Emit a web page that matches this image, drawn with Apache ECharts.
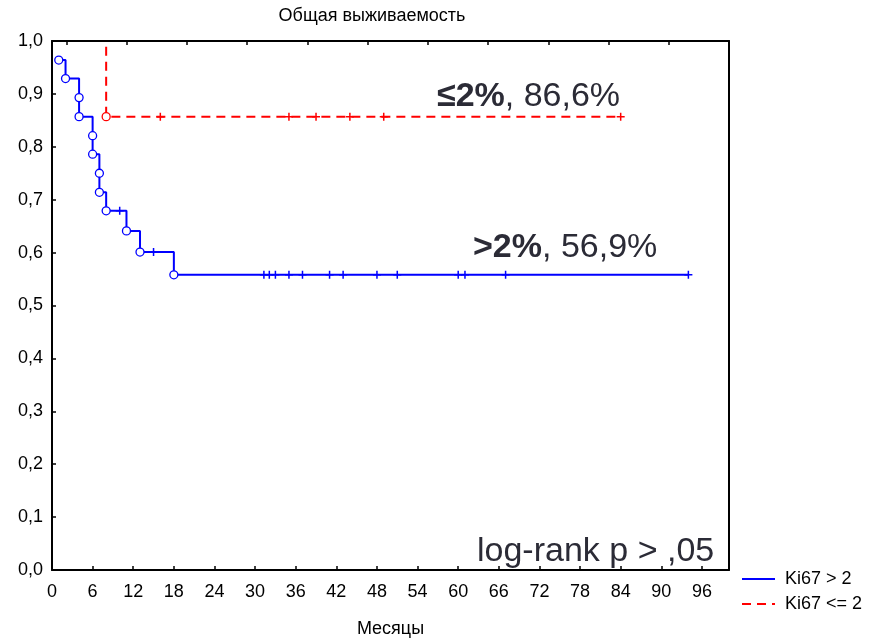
<!DOCTYPE html>
<html>
<head>
<meta charset="utf-8">
<script src="https://cdn.jsdelivr.net/npm/echarts@6/dist/echarts.min.js"></script>
<style>html,body{margin:0;padding:0;background:#fff;}#c{width:873px;height:639px;}</style>
</head>
<body>
<div id="c"></div>
<script>
// ---- data ----
const xTicks = [0, 6, 12, 18, 24, 30, 36, 42, 48, 54, 60, 66, 72, 78, 84, 90, 96];
const yTicks = [0, 0.1, 0.2, 0.3, 0.4, 0.5, 0.6, 0.7, 0.8, 0.9, 1.0];

const seriesNames = ['Ki67 > 2', 'Ki67 <= 2'];

// Ki67 > 2 : event (circle) times and survival levels after each event
const hiEventT = [1, 2, 4, 4, 6, 6, 7, 7, 8, 11, 13, 18];
const hiEventS = [0.964, 0.929, 0.893, 0.857, 0.821, 0.786, 0.750, 0.714, 0.679, 0.641, 0.601, 0.558];
const hiCensorT = [10, 15, 31.3, 32.1, 33, 35, 37, 41, 43, 48, 51, 60, 61, 67, 94];
const hiEndT = 94;

// Ki67 <= 2
const loStartS = 1.0;
const loEventT = [8];
const loEventS = [0.857];
const loCensorT = [16, 35, 39, 44, 49, 84];
const loEndT = 84;

const labelLo = ['≤2%', ', 86,6%'];
const labelHi = ['>2%', ', 56,9%'];
const pText = 'log-rank p > ,05';
const titleText = 'Общая выживаемость';
const xName = 'Месяцы';

// ---- helpers ----
function levelAt(t, evT, evS, start) {
  let s = start;
  for (let i = 0; i < evT.length; i++) if (evT[i] <= t) s = evS[i];
  return s;
}
const hiLine = hiEventT.map((t, i) => [t, hiEventS[i]]).concat([[hiEndT, hiEventS[hiEventS.length - 1]]]);
const loLine = [[0, loStartS]].concat(loEventT.map((t, i) => [t, loEventS[i]])).concat([[loEndT, loEventS[loEventS.length - 1]]]);
const hiEvents = hiEventT.map((t, i) => [t, hiEventS[i]]);
const loEvents = loEventT.map((t, i) => [t, loEventS[i]]);
const hiCens = hiCensorT.map(t => [t, levelAt(t, hiEventT, hiEventS, hiEventS[0])]);
const loCens = loCensorT.map(t => [t, levelAt(t, loEventT, loEventS, loStartS)]);

const BLUE = '#0000ff', RED = '#ff0000';
const FONT = 'Liberation Sans, Arial, sans-serif';
const PLUS = 'path://M5,0L5,10M0,5L10,5';
const TXT = '#2b2b36';

const chart = echarts.init(document.getElementById('c'), null, {renderer: 'canvas'});
chart.setOption({
  animation: false,
  backgroundColor: '#fff',
  grid: {left: 52, right: 144, top: 41, bottom: 69, containLabel: false, outerBoundsMode: 'none'},
  xAxis: [{
    type: 'value', min: 0, max: 100, interval: 6, z: 10,
    name: xName, nameLocation: 'middle', nameGap: 50,
    nameTextStyle: {fontSize: 18, color: '#000', fontFamily: FONT},
    axisLine: {show: true, onZero: false, lineStyle: {color: '#000', width: 2}},
    axisTick: {show: true, inside: true, length: 4, lineStyle: {color: '#000', width: 1.5}},
    axisLabel: {margin: 13, fontSize: 18, color: '#000', fontFamily: FONT, showMaxLabel: false,
      formatter: v => xTicks.indexOf(v) >= 0 ? String(v) : ''},
    splitLine: {show: false}
  }, {
    type: 'value', position: 'top', min: 0, max: 11.24, interval: 1, inverse: true, z: 10,
    axisLine: {show: true, onZero: false, lineStyle: {color: '#000', width: 2}},
    axisTick: {show: true, inside: true, length: 4, lineStyle: {color: '#000', width: 1.5}},
    axisLabel: {show: false}, splitLine: {show: false}
  }],
  yAxis: [{
    type: 'value', min: 0, max: 1, interval: 0.1, z: 10,
    axisLine: {show: true, onZero: false, lineStyle: {color: '#000', width: 2}},
    axisTick: {show: true, inside: true, length: 4, lineStyle: {color: '#000', width: 1.5}},
    axisLabel: {margin: 9, fontSize: 18, color: '#000', fontFamily: FONT, padding: [5, 0, 0, 0],
      formatter: v => {
        const i = yTicks.findIndex(t => Math.abs(t - v) < 1e-9);
        return i >= 0 ? yTicks[i].toFixed(1).replace('.', ',') : '';
      }},
    splitLine: {show: false}
  }, {
    type: 'value', position: 'right', min: 0, max: 1, z: 10,
    axisLine: {show: true, onZero: false, lineStyle: {color: '#000', width: 2}},
    axisTick: {show: false}, axisLabel: {show: false}, splitLine: {show: false}
  }],
  legend: {
    data: seriesNames, orient: 'vertical', left: 736, top: 565,
    itemWidth: 33, itemHeight: 12, itemGap: 7,
    itemStyle: {opacity: 0},
    textStyle: {fontSize: 18, color: '#000', fontFamily: FONT, padding: [0, 0, 0, 5]}
  },
  graphic: [
    {type: 'text', x: 372, y: 16, style: {text: titleText, fontSize: 18, fontFamily: FONT, fill: '#000', textAlign: 'center', textVerticalAlign: 'middle'}},
    {type: 'text', x: 437, y: 97, style: {
      text: '{b|' + labelLo[0] + '}{r|' + labelLo[1] + '}', textVerticalAlign: 'middle',
      rich: {b: {fontSize: 34, fontWeight: 'bold', fontFamily: FONT, fill: TXT}, r: {fontSize: 34, fontFamily: FONT, fill: TXT}}}},
    {type: 'text', x: 473, y: 248, style: {
      text: '{b|' + labelHi[0] + '}{r|' + labelHi[1] + '}', textVerticalAlign: 'middle',
      rich: {b: {fontSize: 34, fontWeight: 'bold', fontFamily: FONT, fill: TXT}, r: {fontSize: 34, fontFamily: FONT, fill: TXT}}}},
    {type: 'text', x: 477, y: 552, style: {text: pText, fontSize: 34, fontFamily: FONT, fill: TXT, textVerticalAlign: 'middle'}}
  ],
  series: [
    {name: seriesNames[0], type: 'line', step: 'end', data: hiLine, symbol: 'none',
      lineStyle: {color: BLUE, width: 2}, itemStyle: {color: BLUE}, z: 3},
    {name: seriesNames[1], type: 'line', step: 'end', data: loLine, symbol: 'none',
      lineStyle: {color: RED, width: 2, type: [9, 6]}, itemStyle: {color: RED}, z: 3},
    {name: 'hiEv', type: 'scatter', data: hiEvents, symbol: 'circle', symbolSize: 8,
      itemStyle: {color: '#fff', borderColor: BLUE, borderWidth: 1.3, opacity: 1}, z: 4},
    {name: 'loEv', type: 'scatter', data: loEvents, symbol: 'circle', symbolSize: 8,
      itemStyle: {color: '#fff', borderColor: RED, borderWidth: 1.3, opacity: 1}, z: 4},
    {name: 'hiCens', type: 'scatter', data: hiCens, symbol: PLUS, symbolSize: 8,
      itemStyle: {color: 'none', borderColor: BLUE, borderWidth: 1.5, opacity: 1}, z: 4},
    {name: 'loCens', type: 'scatter', data: loCens, symbol: PLUS, symbolSize: 8,
      itemStyle: {color: 'none', borderColor: RED, borderWidth: 1.5, opacity: 1}, z: 4}
  ]
});
</script>
</body>
</html>
